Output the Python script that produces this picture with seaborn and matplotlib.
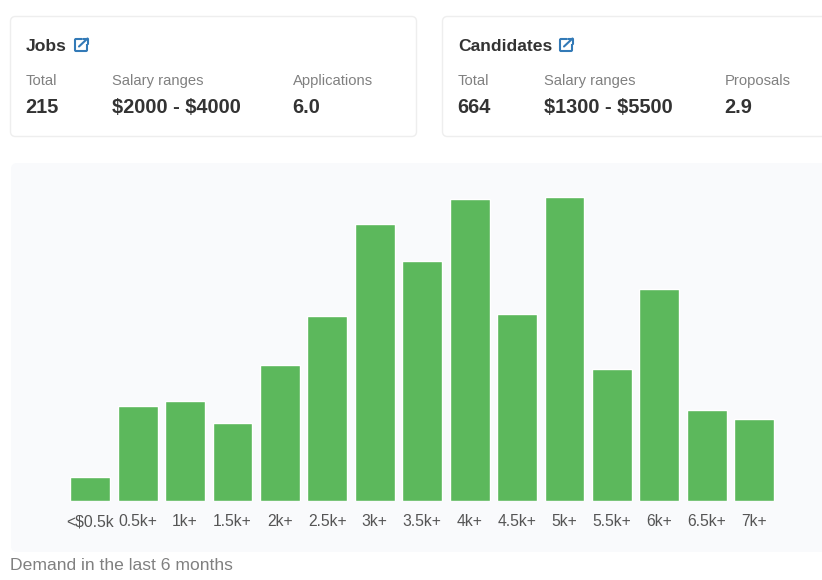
import matplotlib
matplotlib.use("Agg")
import matplotlib.pyplot as plt
from matplotlib.patches import FancyBboxPatch, Rectangle
from matplotlib.lines import Line2D
import seaborn as sns
import pandas as pd

categories = ["<$0.5k", "0.5k+", "1k+", "1.5k+", "2k+", "2.5k+", "3k+", "3.5k+",
              "4k+", "4.5k+", "5k+", "5.5k+", "6k+", "6.5k+", "7k+"]
demand = [24, 95, 100, 78, 136, 185, 277, 240, 302, 187, 304, 132, 212, 91, 82]
jobs_stats = [("Total", "215"), ("Salary ranges", "$2000 - $4000"), ("Applications", "6.0")]
cand_stats = [("Total", "664"), ("Salary ranges", "$1300 - $5500"), ("Proposals", "2.9")]
footer = "Demand in the last 6 months"

W, H = 822, 580
px = 72 / 100  # points per pixel at dpi 100
sns.set_theme(style="white")
plt.rcParams["font.family"] = ["Liberation Sans", "DejaVu Sans"]

fig = plt.figure(figsize=(W / 100, H / 100), dpi=100, facecolor="white")

# page layer, in pixel coordinates
page = fig.add_axes([0, 0, 1, 1], zorder=0)
page.set_xlim(0, W)
page.set_ylim(H, 0)
page.axis("off")


def card(x0, x1, title, stats, xs, icon_x):
    page.add_patch(FancyBboxPatch((x0, 16.5), x1 - x0, 120, boxstyle="round,pad=0,rounding_size=5",
                                  fc="white", ec="#eeeeee", lw=1, clip_on=True))
    page.text(x0 + 15.5, 51, title, fontsize=17.5 * px, fontweight="bold", color="#333333",
              va="baseline", parse_math=False)
    page.add_patch(FancyBboxPatch((icon_x, 39), 12, 12, boxstyle="round,pad=0,rounding_size=1",
                                  fc="none", ec="#337ab7", lw=1.5))
    page.add_patch(Rectangle((icon_x + 7, 37), 7, 6.5, fc="white", ec="none"))
    page.add_line(Line2D([icon_x + 4, icon_x + 12.5], [46.5, 38.5], color="#337ab7", lw=1.5))
    page.add_line(Line2D([icon_x + 8, icon_x + 13, icon_x + 13], [38.5, 38.5, 43.5], color="#337ab7", lw=1.5))
    for (lab, val), x in zip(stats, xs):
        page.text(x, 85, lab, fontsize=14.8 * px, color="#808080", va="baseline", parse_math=False)
        page.text(x - 0.5, 113, val, fontsize=20 * px, fontweight="bold", color="#333333",
                  va="baseline", parse_math=False)


card(10.5, 416.5, "Jobs", jobs_stats, [26, 112, 293], 75)
card(442.5, 840, "Candidates", cand_stats, [458, 544, 725], 560)
page.add_patch(FancyBboxPatch((11, 163), 830, 389, boxstyle="round,pad=0,rounding_size=6",
                              fc="#f9fafc", ec="none"))
page.text(10, 570, footer, fontsize=17.45 * px, color="#808080", va="baseline", parse_math=False)

# chart layer: top of panel to the bar baseline
left, right, top, base = 11, 822, 163, 501
ax = fig.add_axes([left / W, 1 - base / H, (right - left) / W, (base - top) / H], zorder=1)
ax.patch.set_alpha(0)
df = pd.DataFrame({"salary": categories, "demand": demand})
sns.barplot(data=df, x="salary", y="demand", color="#5cb85c", saturation=1, width=0.84, ax=ax)
step = 47.43
ax.set_xlim((left - 90.2) / step, (right - 90.2) / step)
ax.set_ylim(0, base - top)
ax.set_xlabel("")
ax.set_ylabel("")
ax.set_yticks([])
ax.tick_params(axis="x", length=0, pad=25 * px, labelsize=15.8 * px, labelcolor="#555555")
for t in ax.get_xticklabels():
    t.set_parse_math(False)
    t.set_verticalalignment("baseline")
sns.despine(ax=ax, left=True, bottom=True)

fig.savefig("out.png", dpi=100, facecolor="white")
